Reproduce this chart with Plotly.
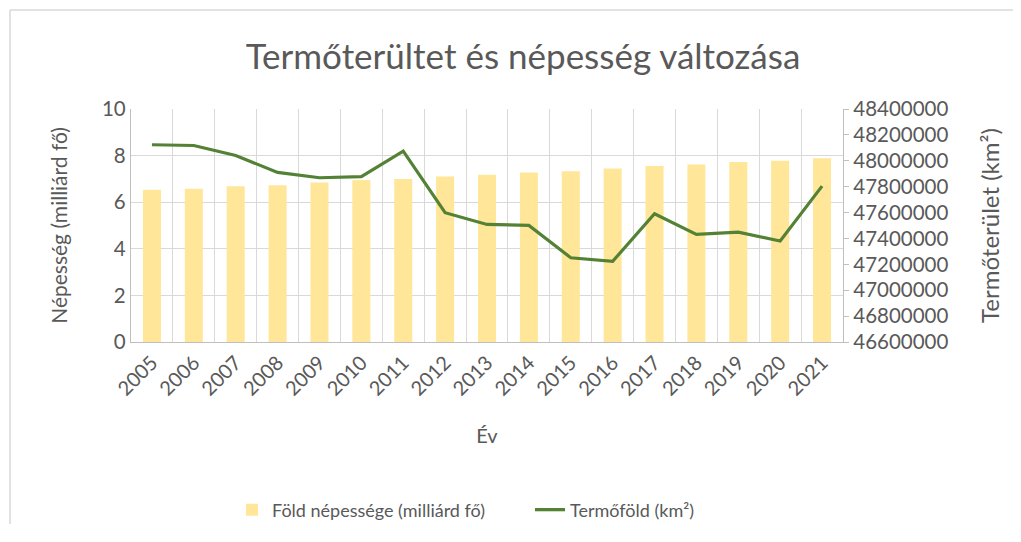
import plotly.graph_objects as go

years = [str(y) for y in range(2005, 2022)]
population = [6.53, 6.58, 6.68, 6.73, 6.85, 6.95, 7.00, 7.10, 7.18, 7.28, 7.33, 7.45, 7.55, 7.62, 7.72, 7.78, 7.89]
arable = [48124000, 48118000, 48041000, 47910000, 47869000, 47877000, 48074000, 47599000,
          47508000, 47501000, 47251000, 47223000, 47591000, 47431000, 47449000, 47380000, 47804000]
right_ticks = list(range(46600000, 48400001, 200000))

OFF = 8  # default page body margin
W, H = 1021 - 2 * OFF, 542 - 2 * OFF - 10
# plot area in screen coordinates
PL, PR, PT, PB = 131, 843, 109, 342
ml, mr, mt, mb = PL - OFF, (W + OFF) - PR, PT - OFF, (H + OFF) - PB
pw, ph = PR - PL, PB - PT

font = "Lato, Open Sans, sans-serif"
grey = "#595959"
gridc = "#D9D9D9"

fig = go.Figure()
fig.add_trace(go.Bar(x=years, y=population, name="Föld népessége (milliárd fő)",
                     marker=dict(color="#FFE699", line=dict(width=0)), width=0.43))
fig.add_trace(go.Scatter(x=years, y=arable, name="Termőföld (km²)", yaxis="y2", mode="lines",
                         line=dict(color="#548235", width=3.2)))

frame_line = dict(color="#D9D9D9", width=1.5)
fx0 = (10 - PL) / pw
fy1 = 1 + (PT - 10) / ph

fig.update_layout(
    width=W, height=H,
    margin=dict(l=ml, r=mr, t=mt, b=mb, autoexpand=False),
    paper_bgcolor="white", plot_bgcolor="white",
    font=dict(family=font, color=grey, size=18),
    title=dict(text="Termőterültet és népesség változása", x=(523 - OFF) / W, xanchor="center",
               y=1 - (57 - OFF) / H, yanchor="middle", font=dict(size=35, color=grey)),
    xaxis=dict(type="category", tickson="boundaries", showgrid=True, gridcolor=gridc, gridwidth=1.3,
               ticks="", tickangle=-45, showline=True, linecolor="#BFBFBF", linewidth=1.3,
               automargin=False,
               title=dict(text="Év", font=dict(size=20, color=grey), standoff=30),
               tickfont=dict(size=20, color=grey)),
    yaxis=dict(range=[0, 10], dtick=2, showgrid=True, gridcolor=gridc, gridwidth=1.3,
               showline=True, linecolor="#BFBFBF", linewidth=1.3, ticks="", zeroline=False,
               automargin=False,
               title=dict(text="Népesség (milliárd fő)", font=dict(size=21, color=grey), standoff=28),
               tickfont=dict(size=20.5, color=grey)),
    yaxis2=dict(overlaying="y", side="right", range=[46600000, 48400000], tickmode="array",
                tickvals=right_ticks, ticktext=[str(v) for v in right_ticks],
                showgrid=False, showline=True, linecolor="#BFBFBF", linewidth=1.3,
                ticks="outside", ticklen=5, tickcolor="#BFBFBF", zeroline=False,
                automargin=False,
                title=dict(text="Termőterület (km²)", font=dict(size=24, color=grey), standoff=34),
                tickfont=dict(size=20.5, color=grey)),
    legend=dict(orientation="h", x=(232 - PL) / pw, xanchor="left", y=(PB - 510) / ph, yanchor="middle",
                font=dict(size=18, color=grey), entrywidth=253, entrywidthmode="pixels",
                traceorder="normal"),
    bargap=0.5,
    shapes=[
        dict(type="line", xref="paper", yref="paper", x0=fx0, x1=(1021 - PL) / pw, y0=fy1, y1=fy1,
             line=frame_line, layer="below"),
        dict(type="line", xref="paper", yref="paper", x0=fx0, x1=fx0, y0=fy1, y1=-(542 - PB) / ph,
             line=frame_line, layer="below"),
    ],
)

fig.write_html("out.html")
